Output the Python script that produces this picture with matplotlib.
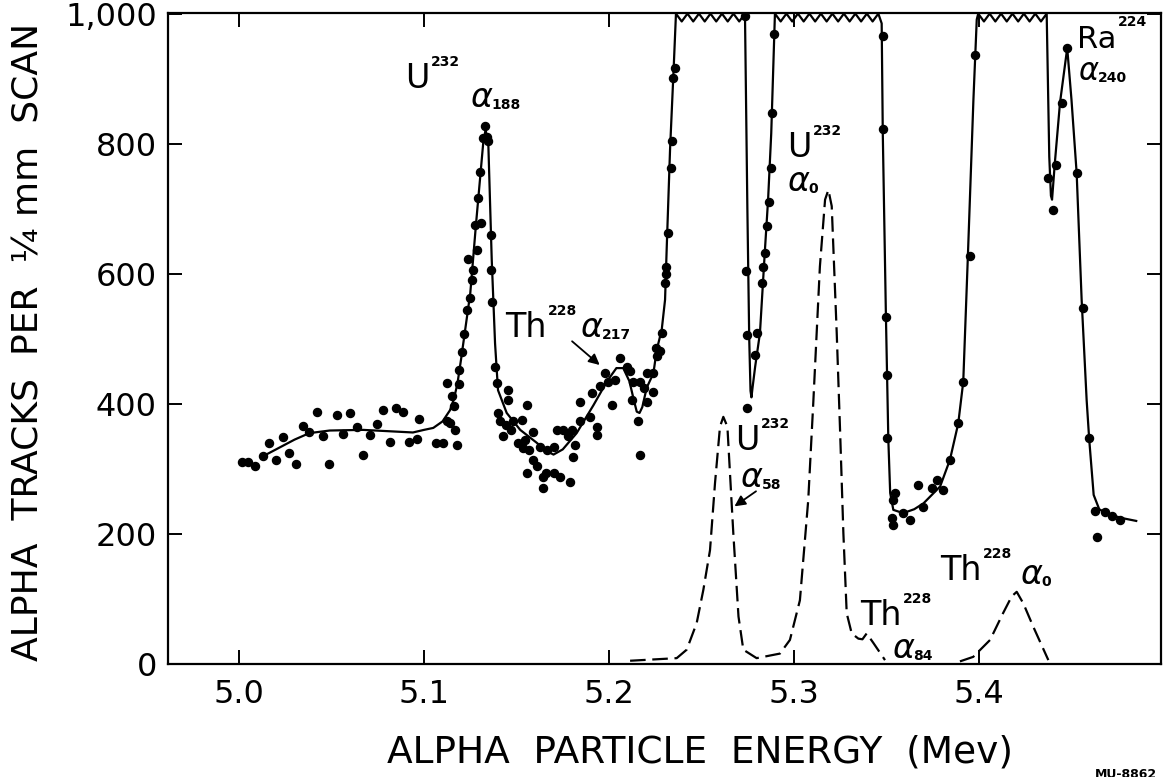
import numpy as np
import matplotlib
matplotlib.use("Agg")
import matplotlib.pyplot as plt

plt.rcParams['font.family'] = ['DejaVu Sans']
plt.rcParams['mathtext.fontset'] = 'dejavusans'

# ---------------- data ----------------
# smooth (solid) envelope curve through the measured spectrum
fit_x = [5.012, 5.020, 5.030, 5.038, 5.049, 5.067, 5.080, 5.094, 5.100, 5.105, 5.110, 5.114,
         5.116, 5.118, 5.120, 5.125, 5.128, 5.132, 5.1333, 5.1348, 5.1366, 5.1384, 5.140,
         5.1447, 5.152, 5.161, 5.166, 5.170, 5.175, 5.1825, 5.1916, 5.199, 5.204, 5.2077,
         5.211, 5.2135, 5.215, 5.2165, 5.218, 5.2204, 5.224, 5.2258, 5.2285, 5.2303, 5.2312,
         5.233, 5.235, 5.2362, 5.2735, 5.2748, 5.2758, 5.2765, 5.2770, 5.2776, 5.279, 5.2816,
         5.2843, 5.286, 5.2877, 5.2894, 5.2897, 5.3456, 5.3474, 5.348, 5.3497, 5.351, 5.352,
         5.3537, 5.359, 5.365, 5.370, 5.379, 5.3843, 5.3888, 5.3915, 5.394, 5.397, 5.398,
         5.3988, 5.3996, 5.4366, 5.4380, 5.4389, 5.4395, 5.441, 5.4438, 5.4477, 5.4500,
         5.4528, 5.4555, 5.4582, 5.4596, 5.462, 5.465, 5.470, 5.478, 5.485]
fit_y = [318, 330, 345, 355, 359, 360, 358, 356, 360, 363, 373, 390,
         406, 430, 468, 570, 673, 801, 822, 796, 622, 493, 421,
         386, 360, 340, 328, 322, 330, 355, 398, 435, 455, 455,
         435, 405, 388, 386, 395, 425, 447, 483, 514, 560, 640,
         791, 919, 1000, 1000, 700, 500, 420, 410, 425, 457, 509,
         637, 714, 816, 970, 1000, 1000, 985, 816, 534, 345, 263,
         237, 232, 238, 247, 273, 314, 370, 434, 627, 868, 937,
         991, 1000, 1000, 780, 720, 714, 770, 863, 947, 868,
         755, 560, 406, 345, 260, 238, 230, 224, 220]
# off-scale plateaus drawn as zig-zag (start, end, number of teeth)
plateaus = [(5.2362, 5.2735, 6), (5.2897, 5.3456, 9), (5.3996, 5.4366, 6)]

# dashed component peaks (U232 a58, U232 a0, Th228 a84 | Th228 a0)
comp_x = [5.2114, 5.2366, 5.242, 5.2474, 5.251, 5.2546, 5.2573, 5.260, 5.2618, 5.264,
          5.2672, 5.270, 5.2726, 5.2798, 5.2924, 5.2978, 5.3032, 5.3077, 5.3104, 5.314,
          5.3168, 5.3186, 5.3204, 5.3231, 5.3249, 5.3267, 5.3285, 5.3312, 5.3348, 5.3370,
          5.3393, 5.343, 5.3492, np.nan, 5.3897, 5.3969, 5.406, 5.413, 5.4177, 5.4204,
          5.424, 5.4294, 5.4375]
comp_y = [5, 9, 22, 63, 114, 175, 278, 365, 380, 365,
          201, 73, 22, 9, 16, 37, 98, 252, 400, 611,
          714, 729, 704, 509, 360, 201, 78, 47, 39, 38,
          47, 32, 6, np.nan, 4, 11, 37, 78, 104, 111,
          93, 57, 6]

# measured points
pts_x = [5.0015, 5.005, 5.0086, 5.0128, 5.0164, 5.020, 5.0236, 5.0272, 5.0308, 5.0344,
         5.038, 5.042, 5.0456, 5.0488, 5.0528, 5.0564, 5.060, 5.0636, 5.0668, 5.0708,
         5.0748, 5.078, 5.0816, 5.0849, 5.0885, 5.092, 5.096, 5.0975, 5.1065, 5.1101,
         5.1123, 5.114, 5.1168, 5.1177, 5.1162, 5.115, 5.1126, 5.119,
         5.119, 5.1204, 5.1218, 5.123, 5.125, 5.126, 5.1267, 5.124, 5.1288, 5.1276,
         5.131, 5.1294, 5.1303, 5.1317, 5.1338, 5.1329, 5.1348, 5.136, 5.136, 5.1366,
         5.1384, 5.1393, 5.140, 5.1455, 5.1455, 5.141, 5.1443, 5.1469, 5.1428, 5.1483,
         5.1555, 5.151, 5.1537, 5.157,
         5.1528, 5.159, 5.1546, 5.1627, 5.1663, 5.170, 5.1717, 5.1753, 5.178, 5.180,
         5.1816, 5.1807, 5.159, 5.161, 5.1555, 5.1645, 5.166, 5.170, 5.1735, 5.1645,
         5.1789, 5.1843, 5.1843, 5.1897, 5.1933, 5.1933, 5.1906, 5.195, 5.1978, 5.1996,
         5.2014, 5.2032, 5.206, 5.2096, 5.2114, 5.2132, 5.2168, 5.2204, 5.224, 5.224,
         5.2204, 5.2122, 5.2158, 5.2168, 5.2258, 5.2276, 5.2285, 5.2190, 5.2254,
         5.2303, 5.2306, 5.2310, 5.2317, 5.2333, 5.2338, 5.2348, 5.2357,
         5.2735, 5.274, 5.2748, 5.2748, 5.279, 5.2798, 5.2825, 5.2834, 5.2843, 5.2852,
         5.2866, 5.2874, 5.2883, 5.2894,
         5.3483, 5.3483, 5.3497, 5.3504, 5.3504,
         5.3546, 5.3537, 5.3528, 5.3537, 5.3591, 5.3627, 5.3672, 5.3699, 5.3744, 5.3771,
         5.3807, 5.3843, 5.3888, 5.3916, 5.3951, 5.3978,
         5.4375, 5.4416, 5.4402, 5.4447, 5.4477, 5.4528, 5.4564, 5.4596,
         5.4625, 5.468, 5.472, 5.476, 5.464]
pts_y = [311, 311, 305, 320, 340, 314, 349, 324, 308, 366,
         356, 388, 351, 307, 383, 354, 386, 365, 322, 352,
         369, 390, 342, 393, 387, 342, 346, 376, 340, 340,
         373, 371, 360, 337, 396, 412, 432, 431,
         452, 480, 508, 545, 563, 591, 606, 622, 637, 675,
         678, 716, 757, 809, 811, 827, 804, 660, 606, 557,
         457, 432, 386, 422, 406, 373, 368, 360, 350, 373,
         398, 340, 332, 329,
         375, 356, 345, 334, 329, 334, 360, 360, 350, 360,
         337, 319, 314, 304, 293, 288, 293, 293, 288, 270,
         280, 403, 373, 380, 365, 352, 416, 427, 447, 434,
         398, 437, 470, 457, 450, 434, 434, 447, 447, 419,
         403, 406, 373, 322, 473, 481, 509, 424, 486,
         586, 611, 600, 662, 762, 804, 901, 916,
         996, 604, 506, 393, 475, 509, 586, 611, 632, 673,
         711, 762, 847, 968,
         965, 822, 534, 445, 347,
         263, 252, 224, 214, 232, 222, 275, 242, 270, 283,
         268, 314, 370, 434, 627, 937,
         747, 768, 698, 863, 947, 755, 547, 347,
         235, 233, 228, 222, 195]

xticks = [5.0, 5.1, 5.2, 5.3, 5.4]
xtick_labels = ['5.0', '5.1', '5.2', '5.3', '5.4']
yticks = [0, 200, 400, 600, 800, 1000]
ytick_labels = ['0', '200', '400', '600', '800', '1,000']

# ---------------- build solid line with zig-zag plateaus ----------------
line_x, line_y = [], []
for i in range(len(fit_x)):
    line_x.append(fit_x[i]); line_y.append(fit_y[i])
    for (a, b, n) in plateaus:
        if abs(fit_x[i] - a) < 1e-9 and i + 1 < len(fit_x) and abs(fit_x[i + 1] - b) < 1e-9:
            zx = np.linspace(a, b, 2 * n + 1)[1:-1]
            zy = [988 if k % 2 == 0 else 1000 for k in range(len(zx))]
            line_x.extend(zx); line_y.extend(zy)

# ---------------- figure ----------------
fig = plt.figure(figsize=(11.63, 7.77), dpi=100)
ax = fig.add_axes([168 / 1163, 1 - 664 / 777, (1161 - 168) / 1163, (664 - 13) / 777])

ax.plot(line_x, line_y, color='black', lw=1.6, solid_joinstyle='round', clip_on=False, zorder=3)
ax.plot(comp_x, comp_y, color='black', lw=1.6, dashes=(7, 3), zorder=3)
ax.plot(pts_x, pts_y, 'o', color='black', ms=5.8, zorder=4)

ax.set_xlim(4.9616, 5.4984)
ax.set_ylim(0, 1001)
ax.set_xticks(xticks)
ax.set_xticklabels(xtick_labels)
ax.set_yticks(yticks)
ax.set_yticklabels(ytick_labels)
ax.tick_params(direction='in', length=10, width=1.4, labelsize=23,
               top=True, right=True, colors='black')
ax.tick_params(axis='x', pad=11)
ax.tick_params(axis='y', pad=8)
for s in ax.spines.values():
    s.set_linewidth(1.6)

# ---------------- annotations ----------------
FS = 24
SMALL = 10


def label(x, y, main, sup=None, sub=None, fs=FS):
    t = ax.text(x, y, main, fontsize=fs, va='baseline', ha='left')
    if sup:
        ax.annotate(sup, xy=(1, y + 34), xycoords=(t, 'data'), xytext=(1.0, 0),
                    textcoords='offset points', fontsize=SMALL, fontweight='bold',
                    va='baseline', ha='left')
    if sub:
        ax.annotate(sub, xy=(1, y - 3), xycoords=(t, 'data'), xytext=(-1.5, 0),
                    textcoords='offset points', fontsize=SMALL, fontweight='bold',
                    va='baseline', ha='left')
    return t


A = r'$\alpha$'
label(5.0897, 886, 'U', sup='232')
label(5.1249, 857, A, sub='188')
label(5.1438, 503, 'Th', sup='228')
label(5.1843, 503, A, sub='217')
ax.annotate('', xy=(5.1961, 457), xytext=(5.1789, 499),
            arrowprops=dict(arrowstyle='-|>', color='black', lw=1.3, mutation_scale=16))
label(5.2961, 780, 'U', sup='232')
label(5.2961, 727, A, sub='0')
label(5.2681, 329, 'U', sup='232')
label(5.2708, 272, A, sub='58')
ax.annotate('', xy=(5.2666, 240), xytext=(5.2807, 268),
            arrowprops=dict(arrowstyle='-|>', color='black', lw=1.3, mutation_scale=16))
label(5.3357, 60, 'Th', sup='228')
label(5.3528, 9, A, sub='84')
label(5.3789, 129, 'Th', sup='228')
label(5.4222, 123, A, sub='0')
label(5.4528, 947, 'Ra', sup='224', fs=22)
label(5.4535, 898, A, sub='240', fs=22)

fig.text(700 / 1163, 1 - 762 / 777, 'ALPHA  PARTICLE  ENERGY  (Mev)', fontsize=27,
         ha='center', va='baseline')
fig.text(29 / 1163, 1 - 342 / 777, 'ALPHA  TRACKS  PER  ¼ mm  SCAN', fontsize=26,
         rotation=90, ha='center', va='center')
fig.text(1095 / 1163, 1 - 768 / 777, 'MU-8862', fontsize=9, fontweight='bold',
         ha='left', va='top')

fig.savefig('out.png', dpi=100)
